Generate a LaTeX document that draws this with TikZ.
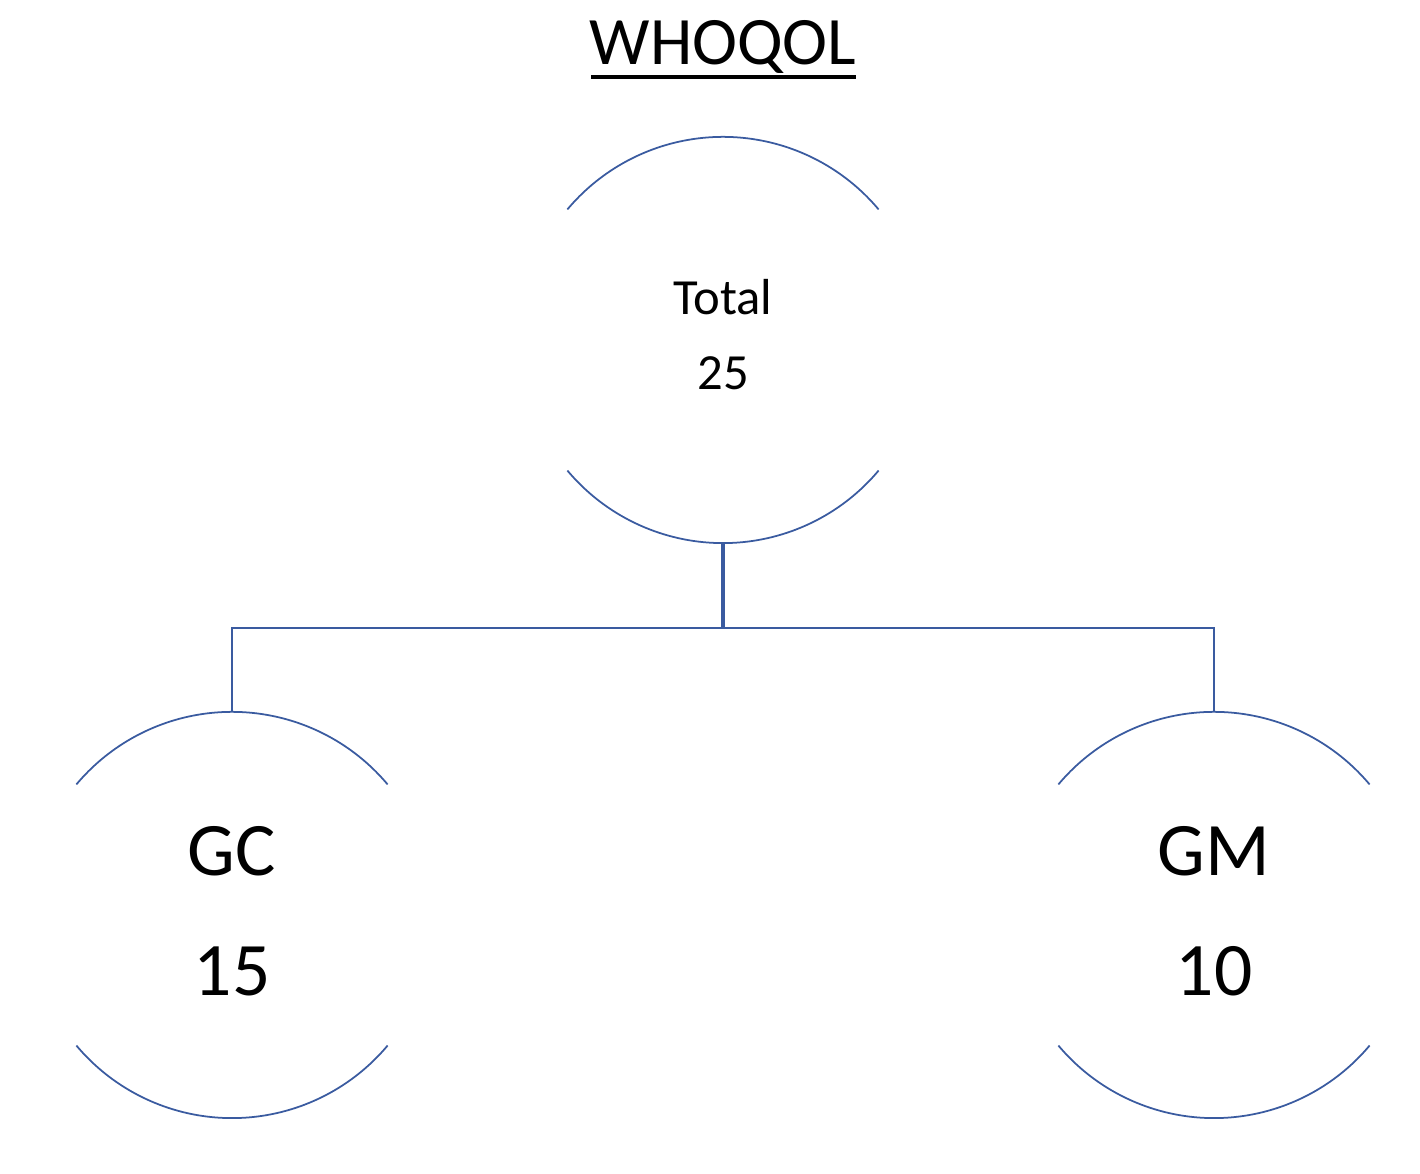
\documentclass[tikz,border=0pt]{standalone}
\usepackage{fontspec}
\setmainfont{Carlito}
\definecolor{linec}{HTML}{3A5BA0}
\begin{document}
\begin{tikzpicture}[x=0.01cm,y=-0.01cm,
  ring/.style={circle,minimum size=4.06cm,inner sep=0pt,outer sep=0pt},
  arcline/.style={draw=linec,line width=0.5pt},
  conn/.style={draw=linec,line width=0.6pt},
  small/.style={font=\fontsize{14.4}{16}\selectfont,anchor=base,inner sep=0pt},
  big/.style={font=\fontsize{21.5}{24}\selectfont,anchor=base,inner sep=0pt}]
\useasboundingbox (0,0) rectangle (1420,1174);
\node[anchor=base,inner sep=0pt,font=\fontsize{19.3}{22}\selectfont] (title) at (723,65) {WHOQOL};
\draw[line width=1.1pt] (591,77) -- (856,77);
\node[ring] (top) at (723,340) {};
\node[ring] (left) at (232,915) {};
\node[ring] (right) at (1214,915) {};
\foreach \n in {top,left,right}{
  \draw[arcline] (\n.40) arc[start angle=40,end angle=140,radius=2.03cm];
  \draw[arcline] (\n.220) arc[start angle=220,end angle=320,radius=2.03cm];
}
\node[small] (t1) at (723,315) {Total};
\node[small] (t2) at (723,390) {25};
\node[big] (l1) at (232,876) {GC};
\node[big] (l2) at (232,996) {15};
\node[big] (r1) at (1214,876) {GM};
\node[big] (r2) at (1214,996) {10};
\coordinate (hub) at (723,628);
\draw[conn,line width=0.9pt] (top.south) -- (hub);
\draw[conn] (left.north) -- (left.north |- hub) -- (right.north |- hub) -- (right.north);
\end{tikzpicture}
\end{document}
